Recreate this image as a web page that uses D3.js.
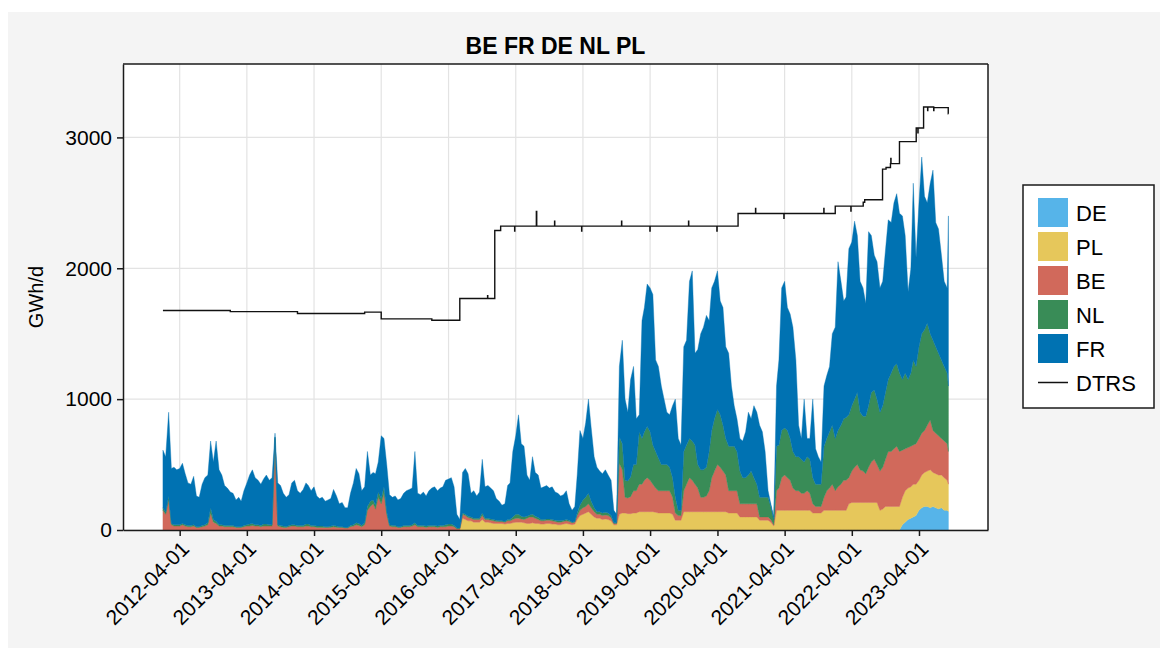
<!DOCTYPE html>
<html>
<head>
<meta charset="utf-8">
<script src="https://cdn.jsdelivr.net/npm/d3@7"></script>
<style>
body { margin: 0; background: #fff; font-family: "Liberation Sans", Arial, sans-serif; }
</style>
</head>
<body>
<div id="chart"></div>
<script>
// stack order bottom -> top
var keys = ["DE", "PL", "BE", "NL", "FR"];
var legendKeys = ["DE", "PL", "BE", "NL", "FR"];
var colors = { DE: "#56b4e9", PL: "#e6c75b", BE: "#d1695b", NL: "#398c57", FR: "#0072b2" };

var xTicks = ["2012-04-01", "2013-04-01", "2014-04-01", "2015-04-01", "2016-04-01", "2017-04-01",
              "2018-04-01", "2019-04-01", "2020-04-01", "2021-04-01", "2022-04-01", "2023-04-01"];
var yTicks = [0, 1000, 2000, 3000];

// values read on the 1st and 16th of each month, 2012-01 .. 2023-09, last point 2023-09-08 (GWh/d)
var DE = [
  0,0,0,0,0,0,0,0,0,0,0,0,0,0,0,0,0,0,0,0,0,0,0,0,
  0,0,0,0,0,0,0,0,0,0,0,0,0,0,0,0,0,0,0,0,0,0,0,0,
  0,0,0,0,0,0,0,0,0,0,0,0,0,0,0,0,0,0,0,0,0,0,0,0,
  0,0,0,0,0,0,0,0,0,0,0,0,0,0,0,0,0,0,0,0,0,0,0,0,
  0,0,0,0,0,0,0,0,0,0,0,0,0,0,0,0,0,0,0,0,0,0,0,0,
  0,0,0,0,0,0,0,0,0,0,0,0,0,0,0,0,0,0,0,0,0,0,0,0,
  0,0,0,0,0,0,0,0,0,0,0,0,0,0,0,0,0,0,0,0,0,0,0,0,
  0,0,0,0,0,0,0,0,0,0,0,0,0,0,0,0,0,0,0,0,0,0,0,0,
  0,0,0,0,0,0,0,0,0,0,0,0,0,0,0,0,0,0,0,0,0,0,0,0,
  0,0,0,0,0,0,0,0,0,0,0,0,0,0,0,0,0,0,0,0,0,0,0,0,
  0,0,0,0,0,0,0,0,0,0,0,0,0,0,0,0,0,0,0,0,0,0,0,0,
  40,60,80,90,100,110,150,170,180,180,170,180,170,160,170,150,150,140
];
var PL = [
  0,0,0,0,0,0,0,0,0,0,0,0,0,0,0,0,0,0,0,0,0,0,0,0,
  0,0,0,0,0,0,0,0,0,0,0,0,0,0,0,0,0,0,0,0,0,0,0,0,
  0,0,0,0,0,0,0,0,0,0,0,0,0,0,0,0,0,0,0,0,0,0,0,0,
  0,0,0,0,0,0,0,0,0,0,0,0,0,0,0,0,0,0,0,0,0,0,0,0,
  0,0,0,0,0,0,0,0,0,0,0,90,80,70,70,60,60,60,80,60,60,55,50,50,
  50,50,45,50,50,55,60,60,60,55,50,50,55,50,50,45,45,50,50,45,45,40,40,45,
  50,45,40,45,80,110,120,130,140,120,100,90,90,80,85,80,70,40,40,120,130,130,125,125,
  130,130,140,140,140,140,140,140,135,130,130,130,130,130,120,75,75,75,140,140,140,140,140,140,
  140,140,140,140,140,140,140,140,140,140,130,130,130,130,100,100,100,100,100,100,100,75,75,75,
  75,60,30,150,150,150,150,150,150,150,150,150,150,150,150,150,130,130,130,130,150,150,150,150,
  150,150,150,150,150,200,210,210,210,210,210,210,210,210,210,210,150,160,180,180,180,180,180,180,
  210,240,240,240,250,240,230,250,260,270,290,260,260,260,250,250,230,210
];
var BE = [
  150,120,230,40,30,30,30,40,30,25,25,30,20,20,25,30,40,130,60,50,30,30,25,25,
  25,25,20,20,20,25,30,30,35,30,30,25,30,30,30,30,700,30,25,20,20,25,30,30,
  25,25,25,30,30,25,25,20,20,20,20,20,20,25,20,20,20,15,15,25,30,40,35,25,
  40,150,180,200,160,250,200,280,120,30,25,25,20,20,25,25,25,30,40,25,25,25,20,25,
  25,25,20,25,25,25,30,30,25,10,10,30,30,25,20,20,20,20,30,20,20,20,20,15,
  15,15,15,20,20,25,30,30,25,25,40,50,45,40,30,25,25,25,25,25,20,20,20,20,
  20,20,15,15,30,40,50,50,60,50,40,30,30,30,30,30,25,10,10,390,330,120,120,130,
  170,170,210,210,240,260,240,210,185,170,170,170,170,170,130,55,35,35,160,210,260,240,210,180,
  110,110,120,160,260,310,360,340,310,280,170,170,170,170,100,100,100,100,100,100,100,25,25,25,
  25,20,10,150,170,250,270,250,230,170,150,150,130,130,150,130,70,50,50,50,100,150,170,200,
  150,180,200,230,230,200,240,270,290,250,240,220,270,310,330,290,300,320,360,420,420,440,460,420,
  360,320,310,310,300,310,320,320,320,350,380,320,310,300,280,280,280,250
];
var NL = [
  20,15,30,10,10,10,10,10,10,10,10,10,5,5,10,10,15,40,20,15,10,10,10,10,
  10,10,5,5,5,10,10,15,15,10,10,10,15,15,10,10,10,10,10,10,5,10,10,10,
  10,10,10,15,15,10,10,10,10,10,5,5,10,10,10,5,5,5,5,10,10,15,15,10,
  15,30,40,30,30,40,40,50,20,10,10,10,5,5,10,10,10,10,15,10,10,10,10,10,
  10,10,10,10,10,15,15,15,10,5,5,10,10,10,10,10,10,10,20,10,10,10,10,10,
  5,5,5,10,10,20,30,30,20,20,15,15,20,15,15,10,10,10,10,10,10,10,10,10,
  10,10,5,5,20,40,60,70,80,50,30,20,20,20,20,20,15,5,5,200,200,130,130,150,
  200,200,400,350,370,390,370,300,280,250,200,200,200,180,150,120,40,40,300,300,300,300,300,180,
  210,210,220,300,360,400,420,400,350,280,340,340,340,300,250,200,200,220,250,200,150,150,150,150,
  150,100,40,340,330,360,360,360,320,280,260,260,260,240,260,260,200,170,170,170,390,400,430,450,
  400,430,450,470,480,480,500,520,550,440,420,440,470,530,530,500,450,470,510,550,600,630,630,600,
  540,580,520,560,650,590,700,760,770,780,660,690,660,630,600,570,540,500
];
var FR = [
  440,425,640,420,440,420,430,460,390,325,315,370,235,225,315,360,365,510,440,615,420,380,305,285,
  255,245,205,225,195,265,320,375,410,360,340,315,345,375,340,360,30,320,305,250,225,235,320,340,
  265,245,275,315,295,265,295,230,210,220,195,205,210,275,230,175,185,150,150,245,320,415,380,265,
  275,420,200,210,240,230,480,370,360,230,215,225,205,215,245,265,275,280,545,245,235,255,230,265,
  285,295,270,285,295,340,345,355,295,105,65,310,350,325,180,210,170,200,410,240,250,235,220,165,
  150,120,135,260,280,500,600,760,555,540,315,265,440,335,325,240,250,255,235,250,215,210,190,195,
  220,125,90,115,290,570,470,570,720,560,390,340,310,300,325,290,270,95,65,540,790,620,525,745,
  750,350,130,900,950,1090,1100,1150,700,700,600,500,400,400,550,750,550,500,800,800,1200,1300,700,880,
  1040,1090,1160,1000,1090,1050,1060,870,900,700,710,460,310,250,250,280,350,480,400,550,550,550,500,350,
  50,20,20,460,650,1090,1120,940,950,950,740,240,160,480,140,160,600,270,210,170,460,480,500,700,
  850,1290,1100,900,920,1270,1250,1360,1200,1000,980,860,1330,1200,1030,1050,950,950,1090,1220,1150,1250,1300,1220,
  1250,1050,670,800,1350,830,1100,1350,1020,920,1150,1300,950,950,800,650,650,1300
];

// DTRS step line [date, GWh/d]
var DTRS = [
  ["2012-01-01", 1677], ["2013-01-01", 1669], ["2014-01-01", 1654], ["2015-01-01", 1665],
  ["2015-04-01", 1613], ["2016-01-01", 1603], ["2016-06-01", 1769], ["2016-10-30", 1790],
  ["2016-10-31", 1769], ["2016-12-08", 2289], ["2017-01-09", 2322], ["2017-03-26", 2284],
  ["2017-03-27", 2322], ["2017-07-22", 2434], ["2017-07-24", 2322], ["2017-10-29", 2360],
  ["2017-10-30", 2322], ["2018-03-25", 2284], ["2018-03-26", 2322], ["2018-10-28", 2360],
  ["2018-10-29", 2322], ["2019-03-31", 2284], ["2019-04-01", 2322], ["2019-10-27", 2360],
  ["2019-10-28", 2322], ["2020-03-29", 2284], ["2020-03-30", 2322], ["2020-07-22", 2419],
  ["2020-10-25", 2457], ["2020-10-26", 2419], ["2021-03-28", 2381], ["2021-03-29", 2419],
  ["2021-10-31", 2457], ["2021-11-01", 2419], ["2022-01-01", 2475], ["2022-03-27", 2437],
  ["2022-03-28", 2475], ["2022-06-02", 2505], ["2022-06-10", 2524], ["2022-09-15", 2758],
  ["2022-10-04", 2770], ["2022-10-28", 2800], ["2022-10-30", 2840], ["2022-10-31", 2800],
  ["2022-12-16", 2968], ["2023-03-17", 3072], ["2023-03-26", 3035], ["2023-03-27", 3072],
  ["2023-04-26", 3232], ["2023-05-18", 3205], ["2023-05-19", 3232], ["2023-06-20", 3205],
  ["2023-06-21", 3228], ["2023-09-07", 3181], ["2023-09-08", 3181]
];

var parseDate = d3.timeParse("%Y-%m-%d");

// sample dates: 1st and 16th of each month
var dates = [];
for (var yr = 2012; yr <= 2023; yr++) {
    for (var m = 0; m < 12; m++) {
        [1, 16].forEach(function(day) {
            var d = new Date(yr, m, day);
            if (d <= new Date(2023, 8, 1)) dates.push(d);
        });
    }
}
dates.push(new Date(2023, 8, 8));

var rows = dates.map(function(d, i) {
    return { date: d, DE: DE[i], PL: PL[i], BE: BE[i], NL: NL[i], FR: FR[i] };
});

var W = 1166, H = 650;
var margin = { top: 64, right: 178, bottom: 120, left: 123 };
var width = W - margin.left - margin.right,
    height = H - margin.top - margin.bottom;

var svg = d3.select("#chart").append("svg")
    .attr("width", W)
    .attr("height", H);

// grey figure background
svg.append("rect")
    .attr("x", 8).attr("y", 12)
    .attr("width", 1152).attr("height", 636)
    .attr("fill", "#f4f4f4");

var g = svg.append("g")
    .attr("transform", "translate(" + margin.left + "," + margin.top + ")");

g.append("rect").attr("width", width).attr("height", height).attr("fill", "#fff");

var x = d3.scaleTime()
    .domain([parseDate("2011-05-29"), parseDate("2024-04-10")])
    .range([0, width]);

var y = d3.scaleLinear()
    .domain([0, 3561])
    .range([height, 0]);

var tickDates = xTicks.map(parseDate);

// grid
g.selectAll(".vgrid").data(tickDates).enter().append("line")
    .attr("x1", function(d) { return x(d); })
    .attr("x2", function(d) { return x(d); })
    .attr("y1", 0).attr("y2", height)
    .attr("stroke", "#e3e3e3").attr("stroke-width", 1.2);

g.selectAll(".hgrid").data(yTicks).enter().append("line")
    .attr("x1", 0).attr("x2", width)
    .attr("y1", function(d) { return y(d); })
    .attr("y2", function(d) { return y(d); })
    .attr("stroke", "#e3e3e3").attr("stroke-width", 1.2);

// stacked areas
var stacked = d3.stack().keys(keys)(rows);

var area = d3.area()
    .x(function(d) { return x(d.data.date); })
    .y0(function(d) { return y(d[0]); })
    .y1(function(d) { return y(d[1]); });

g.selectAll(".layer").data(stacked).enter().append("path")
    .attr("class", "layer")
    .attr("fill", function(d) { return colors[d.key]; })
    .attr("stroke", function(d) { return colors[d.key]; })
    .attr("stroke-width", 0.4)
    .attr("d", area);

// DTRS
var line = d3.line()
    .curve(d3.curveStepAfter)
    .x(function(d) { return x(parseDate(d[0])); })
    .y(function(d) { return y(d[1]); });

g.append("path")
    .datum(DTRS)
    .attr("fill", "none")
    .attr("stroke", "#111")
    .attr("stroke-width", 1.4)
    .attr("d", line);

// frame top / right
g.append("line").attr("x1", 0).attr("x2", width).attr("y1", 0).attr("y2", 0)
    .attr("stroke", "#1a1a1a").attr("stroke-width", 1.5);
g.append("line").attr("x1", width).attr("x2", width).attr("y1", 0).attr("y2", height)
    .attr("stroke", "#1a1a1a").attr("stroke-width", 1.5);

// axes
var xAxis = g.append("g")
    .attr("transform", "translate(0," + height + ")")
    .call(d3.axisBottom(x).tickValues(tickDates).tickFormat(d3.timeFormat("%Y-%m-%d")).tickSize(6).tickSizeOuter(0));

xAxis.selectAll("text")
    .attr("x", 0).attr("y", 0).attr("dy", "0.35em")
    .attr("transform", "translate(5,15) rotate(-45)")
    .style("text-anchor", "end");

var yAxis = g.append("g")
    .call(d3.axisLeft(y).tickValues(yTicks).tickFormat(d3.format("d")).tickSize(6).tickSizeOuter(0).tickPadding(5));

[xAxis, yAxis].forEach(function(ax) {
    ax.select(".domain").attr("stroke", "#1a1a1a").attr("stroke-width", 1.5);
    ax.selectAll(".tick line").attr("stroke", "#1a1a1a").attr("stroke-width", 1.5);
    ax.selectAll("text")
        .attr("fill", "#000")
        .style("font-family", "'Liberation Sans', Arial, sans-serif")
        .style("font-size", "21px");
});

// y label
svg.append("text")
    .attr("transform", "translate(43," + (margin.top + height / 2) + ") rotate(-90)")
    .attr("text-anchor", "middle")
    .style("font-size", "20px")
    .text("GWh/d");

// title
svg.append("text")
    .attr("x", margin.left + width / 2)
    .attr("y", 54)
    .attr("text-anchor", "middle")
    .style("font-size", "23px")
    .style("font-weight", "bold")
    .text("BE FR DE NL PL");

// legend
var legend = svg.append("g").attr("transform", "translate(1023,185)");
legend.append("rect")
    .attr("width", 131).attr("height", 223)
    .attr("fill", "#fff").attr("stroke", "#1a1a1a").attr("stroke-width", 1.5);

legendKeys.forEach(function(k, i) {
    var item = legend.append("g").attr("transform", "translate(15," + (13 + i * 34) + ")");
    item.append("rect").attr("width", 30).attr("height", 29).attr("fill", colors[k]);
    item.append("text").attr("x", 38).attr("y", 22.5).style("font-size", "22px").text(k);
});
var dItem = legend.append("g").attr("transform", "translate(15," + (13 + 5 * 34) + ")");
dItem.append("line").attr("x1", 0).attr("x2", 30).attr("y1", 14.5).attr("y2", 14.5)
    .attr("stroke", "#111").attr("stroke-width", 1.5);
dItem.append("text").attr("x", 38).attr("y", 22.5).style("font-size", "22px").text("DTRS");
</script>
</body>
</html>
